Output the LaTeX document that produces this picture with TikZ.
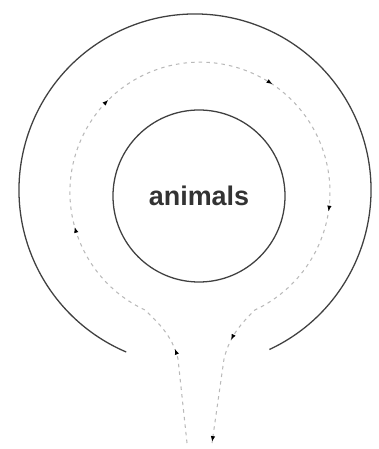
\documentclass[tikz,border=0pt]{standalone}
\usepackage{fontspec}
\setsansfont{Liberation Sans}
\usetikzlibrary{arrows.meta,decorations.markings}

\begin{document}
\begin{tikzpicture}[x=0.03cm, y=0.03cm, >={Latex[length=5pt,width=3.8pt]},
	wall/.style={black!75, line width=1.1pt},
	flow/.style={gray!55, line width=0.9pt, dash pattern=on 3pt off 3.5pt},
	flowarrows/.style={postaction={decorate, decoration={markings,
		mark=at position 0.096 with {\arrow[black]{>}},
		mark=at position 0.259 with {\arrow[black]{>}},
		mark=at position 0.398 with {\arrow[black]{>}},
		mark=at position 0.578 with {\arrow[black]{>}},
		mark=at position 0.726 with {\arrow[black]{>}},
		mark=at position 0.894 with {\arrow[black]{>}},
		mark=at position 0.999 with {\arrow[black]{>}}}}}]
	\useasboundingbox (0,0) rectangle (378,449);
	% outer wall, open at the bottom
	\draw[wall] (195,259) ++(-65:176) arc (-65:247:176);
	% inner circle
	\node[wall, draw, circle, minimum size=5.16cm, inner sep=0pt, text=black!80,
		font=\sffamily\bfseries\fontsize{23}{26}\selectfont] (animals) at (199,253) {animals};
	% dashed flow: in through the left tail, round clockwise, out through the right tail
	\coordinate (inlet) at (187,6);
	\coordinate (outlet) at (212,6);
	\draw[flow, flowarrows] (inlet) -- (178,90) .. controls (172,115) and (156,128) .. (145,139)
		arc (245:-65:130) .. controls (244,128) and (230,115) .. (224,90) -- (outlet);
\end{tikzpicture}
\end{document}
